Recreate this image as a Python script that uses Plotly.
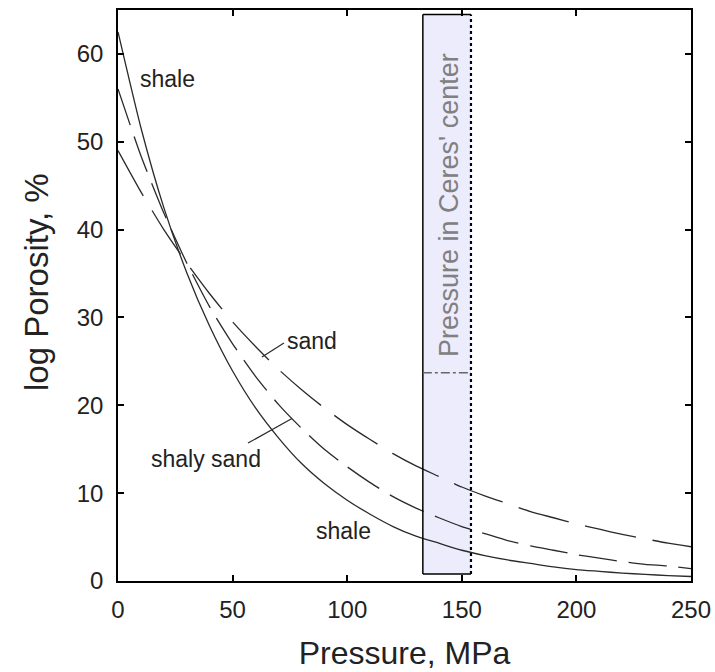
import plotly.graph_objects as go

# Pressure (MPa) sample points
pressure = [0, 10, 20, 30, 40, 50, 60, 70, 80, 90, 100, 110, 120, 130, 140,
            150, 160, 170, 180, 190, 200, 210, 220, 230, 240, 250]

# Porosity (%)
shale = [62.5, 51.6, 42.5, 35.1, 29.0, 23.9, 19.7, 16.3, 13.4, 11.1, 9.2, 7.6, 6.2,
         5.1, 4.3, 3.5, 2.9, 2.4, 2.0, 1.6, 1.3, 1.1, 0.9, 0.75, 0.62, 0.51]
shaly_sand = [56.0, 48.4, 41.9, 36.2, 31.2, 27.0, 23.3, 20.1, 17.4, 15.0, 13.0, 11.2,
              9.6, 8.3, 7.2, 6.2, 5.4, 4.6, 4.0, 3.5, 3.0, 2.6, 2.2, 1.9, 1.7, 1.4]
sand = [49.0, 44.3, 40.0, 36.2, 32.7, 29.5, 26.7, 24.1, 21.8, 19.7, 17.8, 16.1, 14.5,
        13.1, 11.9, 10.7, 9.7, 8.8, 7.9, 7.2, 6.5, 5.9, 5.3, 4.8, 4.3, 3.9]

# Ceres' center pressure band
band_p = [133, 154]
band_por = [0.8, 64.5]
marker_por = 23.7

x_ticks = [0, 50, 100, 150, 200, 250]
y_ticks = [0, 10, 20, 30, 40, 50, 60]

LINE = "#2a2a2a"
FONT = "Liberation Sans, Arial, sans-serif"

fig = go.Figure()

fig.add_shape(type="rect", x0=band_p[0], x1=band_p[1], y0=band_por[0], y1=band_por[1],
              fillcolor="#ececfc", line=dict(width=0), layer="below")
fig.add_shape(type="line", x0=band_p[0], x1=band_p[0], y0=band_por[0], y1=band_por[1],
              line=dict(color="black", width=1.5))
fig.add_shape(type="line", x0=band_p[1], x1=band_p[1], y0=band_por[0], y1=band_por[1],
              line=dict(color="black", width=2.2, dash="dot"))
fig.add_shape(type="line", x0=band_p[0], x1=band_p[1], y0=band_por[1], y1=band_por[1],
              line=dict(color="black", width=1.5))
fig.add_shape(type="line", x0=band_p[0], x1=band_p[1], y0=band_por[0], y1=band_por[0],
              line=dict(color="black", width=1.5))
fig.add_shape(type="line", x0=band_p[0], x1=band_p[1], y0=marker_por, y1=marker_por,
              line=dict(color="#666666", width=1.5, dash="dashdot"))

fig.add_trace(go.Scatter(x=pressure, y=shale, mode="lines", name="shale",
                         line=dict(color=LINE, width=1.3, shape="spline", smoothing=0.6)))
fig.add_trace(go.Scatter(x=pressure, y=shaly_sand, mode="lines", name="shaly sand",
                         line=dict(color=LINE, width=1.3, dash="38px,12px",
                                   shape="spline", smoothing=0.6)))
fig.add_trace(go.Scatter(x=pressure, y=sand, mode="lines", name="sand",
                         line=dict(color=LINE, width=1.3, dash="52px,17px",
                                   shape="spline", smoothing=0.6)))

# pointer lines
fig.add_trace(go.Scatter(x=[62.8, 72.4], y=[25.5, 27.1], mode="lines",
                         line=dict(color=LINE, width=1.2), hoverinfo="skip"))
fig.add_trace(go.Scatter(x=[56.7, 75.9], y=[15.7, 18.5], mode="lines",
                         line=dict(color=LINE, width=1.2), hoverinfo="skip"))

labels = [
    dict(x=21.8, y=57.1, text="shale"),
    dict(x=98.6, y=5.7, text="shale"),
    dict(x=84.6, y=27.3, text="sand"),
    dict(x=38.4, y=13.9, text="shaly sand"),
]
for lab in labels:
    fig.add_annotation(x=lab["x"], y=lab["y"], text=lab["text"], showarrow=False,
                       font=dict(family=FONT, size=23, color="#222222"))

fig.add_annotation(x=144.4, y=42.8, text="Pressure in Ceres' center", showarrow=False,
                   textangle=-90, font=dict(family=FONT, size=27, color="#808080"))

# y-axis title (placed as annotation to match the reference's vertical offset)
fig.add_annotation(xref="paper", yref="paper", x=0, y=0.5236, xshift=-82,
                   xanchor="center", yanchor="middle", text="log Porosity, %",
                   showarrow=False, textangle=-90,
                   font=dict(family=FONT, size=33, color="#222222"))

axis_common = dict(showline=True, linecolor="black", linewidth=1.5, mirror="ticks",
                   ticks="inside", ticklen=6, tickcolor="black", tickwidth=1.5,
                   showgrid=False, zeroline=False, automargin=False,
                   tickfont=dict(family=FONT, size=24, color="#222222"))

fig.update_layout(
    width=715, height=672,
    margin=dict(l=118, r=24, t=10, b=91),
    paper_bgcolor="white", plot_bgcolor="white",
    showlegend=False,
    xaxis=dict(range=[0, 250], tickvals=x_ticks, ticklabelstandoff=6,
               title=dict(text="Pressure, MPa", standoff=20,
                          font=dict(family=FONT, size=32, color="#222222")),
               **axis_common),
    yaxis=dict(range=[0, 65], tickvals=y_ticks, ticklabelstandoff=8,
               **axis_common),
)

# remove the default page margin so the 715x672 figure fills the window exactly
fig.write_html("out.html",
               config={"displayModeBar": False},
               post_script="document.body.style.margin='0';"
                           "document.body.style.overflow='hidden';")
